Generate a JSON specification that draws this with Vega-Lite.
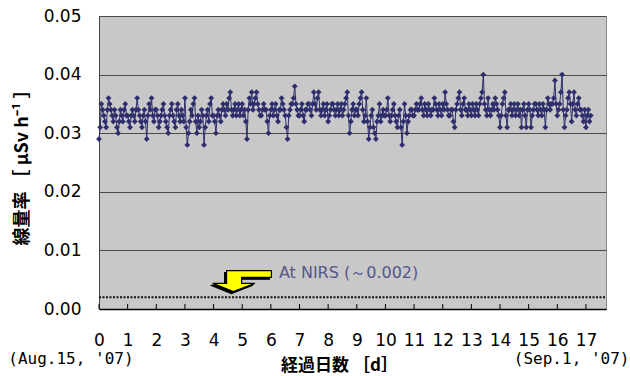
{
  "$schema": "https://vega.github.io/schema/vega-lite/v6.json",
  "autosize": {"type": "none"},
  "width": 507,
  "height": 293,
  "padding": {"left": 99, "top": 16, "right": 24, "bottom": 67},
  "background": "#ffffff",
  "config": {
    "view": {"fill": "#c8c8c8", "stroke": "#8a8a8a", "strokeWidth": 1},
    "axis": {"labelFont": "DejaVu Sans", "labelColor": "#000000", "titleColor": "#000000"}
  },
  "datasets": {
    "dose": [
      {"t":0,"v":0.029},{"t":0.042,"v":0.031},{"t":0.083,"v":0.035},{"t":0.125,"v":0.034},{"t":0.167,"v":0.033},{"t":0.208,"v":0.032},{"t":0.25,"v":0.031},{"t":0.292,"v":0.034},{"t":0.333,"v":0.036},{"t":0.375,"v":0.035},{"t":0.417,"v":0.034},{"t":0.458,"v":0.033},{"t":0.5,"v":0.032},{"t":0.542,"v":0.034},{"t":0.583,"v":0.033},{"t":0.625,"v":0.031},{"t":0.667,"v":0.030},{"t":0.708,"v":0.032},{"t":0.75,"v":0.034},{"t":0.792,"v":0.033},{"t":0.833,"v":0.032},{"t":0.875,"v":0.034},{"t":0.917,"v":0.035},{"t":0.958,"v":0.033},
      {"t":1,"v":0.033},{"t":1.042,"v":0.032},{"t":1.083,"v":0.031},{"t":1.125,"v":0.033},{"t":1.167,"v":0.034},{"t":1.208,"v":0.033},{"t":1.25,"v":0.032},{"t":1.292,"v":0.034},{"t":1.333,"v":0.036},{"t":1.375,"v":0.034},{"t":1.417,"v":0.033},{"t":1.458,"v":0.032},{"t":1.5,"v":0.031},{"t":1.542,"v":0.033},{"t":1.583,"v":0.034},{"t":1.625,"v":0.032},{"t":1.667,"v":0.029},{"t":1.708,"v":0.033},{"t":1.75,"v":0.035},{"t":1.792,"v":0.034},{"t":1.833,"v":0.036},{"t":1.875,"v":0.033},{"t":1.917,"v":0.032},{"t":1.958,"v":0.034},
      {"t":2,"v":0.034},{"t":2.042,"v":0.033},{"t":2.083,"v":0.031},{"t":2.125,"v":0.032},{"t":2.167,"v":0.033},{"t":2.208,"v":0.034},{"t":2.25,"v":0.035},{"t":2.292,"v":0.033},{"t":2.333,"v":0.032},{"t":2.375,"v":0.031},{"t":2.417,"v":0.030},{"t":2.458,"v":0.033},{"t":2.5,"v":0.034},{"t":2.542,"v":0.035},{"t":2.583,"v":0.033},{"t":2.625,"v":0.032},{"t":2.667,"v":0.031},{"t":2.708,"v":0.034},{"t":2.75,"v":0.035},{"t":2.792,"v":0.033},{"t":2.833,"v":0.032},{"t":2.875,"v":0.034},{"t":2.917,"v":0.033},{"t":2.958,"v":0.032},
      {"t":3,"v":0.036},{"t":3.042,"v":0.031},{"t":3.083,"v":0.028},{"t":3.125,"v":0.030},{"t":3.167,"v":0.032},{"t":3.208,"v":0.034},{"t":3.25,"v":0.033},{"t":3.292,"v":0.035},{"t":3.333,"v":0.036},{"t":3.375,"v":0.032},{"t":3.417,"v":0.030},{"t":3.458,"v":0.033},{"t":3.5,"v":0.031},{"t":3.542,"v":0.032},{"t":3.583,"v":0.034},{"t":3.625,"v":0.033},{"t":3.667,"v":0.028},{"t":3.708,"v":0.031},{"t":3.75,"v":0.033},{"t":3.792,"v":0.034},{"t":3.833,"v":0.032},{"t":3.875,"v":0.035},{"t":3.917,"v":0.036},{"t":3.958,"v":0.033},
      {"t":4,"v":0.033},{"t":4.042,"v":0.032},{"t":4.083,"v":0.030},{"t":4.125,"v":0.033},{"t":4.167,"v":0.034},{"t":4.208,"v":0.033},{"t":4.25,"v":0.032},{"t":4.292,"v":0.034},{"t":4.333,"v":0.035},{"t":4.375,"v":0.034},{"t":4.417,"v":0.033},{"t":4.458,"v":0.035},{"t":4.5,"v":0.034},{"t":4.542,"v":0.036},{"t":4.583,"v":0.037},{"t":4.625,"v":0.034},{"t":4.667,"v":0.033},{"t":4.708,"v":0.034},{"t":4.75,"v":0.035},{"t":4.792,"v":0.033},{"t":4.833,"v":0.034},{"t":4.875,"v":0.035},{"t":4.917,"v":0.033},{"t":4.958,"v":0.034},
      {"t":5,"v":0.035},{"t":5.042,"v":0.033},{"t":5.083,"v":0.034},{"t":5.125,"v":0.032},{"t":5.167,"v":0.029},{"t":5.208,"v":0.034},{"t":5.25,"v":0.036},{"t":5.292,"v":0.035},{"t":5.333,"v":0.037},{"t":5.375,"v":0.034},{"t":5.417,"v":0.035},{"t":5.458,"v":0.036},{"t":5.5,"v":0.037},{"t":5.542,"v":0.035},{"t":5.583,"v":0.034},{"t":5.625,"v":0.033},{"t":5.667,"v":0.033},{"t":5.708,"v":0.034},{"t":5.75,"v":0.035},{"t":5.792,"v":0.034},{"t":5.833,"v":0.034},{"t":5.875,"v":0.032},{"t":5.917,"v":0.030},{"t":5.958,"v":0.033},
      {"t":6,"v":0.034},{"t":6.042,"v":0.035},{"t":6.083,"v":0.033},{"t":6.125,"v":0.034},{"t":6.167,"v":0.035},{"t":6.208,"v":0.033},{"t":6.25,"v":0.032},{"t":6.292,"v":0.034},{"t":6.333,"v":0.034},{"t":6.375,"v":0.036},{"t":6.417,"v":0.035},{"t":6.458,"v":0.034},{"t":6.5,"v":0.033},{"t":6.542,"v":0.031},{"t":6.583,"v":0.029},{"t":6.625,"v":0.033},{"t":6.667,"v":0.034},{"t":6.708,"v":0.035},{"t":6.75,"v":0.035},{"t":6.792,"v":0.036},{"t":6.833,"v":0.038},{"t":6.875,"v":0.035},{"t":6.917,"v":0.034},{"t":6.958,"v":0.033},
      {"t":7,"v":0.033},{"t":7.042,"v":0.034},{"t":7.083,"v":0.035},{"t":7.125,"v":0.033},{"t":7.167,"v":0.032},{"t":7.208,"v":0.034},{"t":7.25,"v":0.034},{"t":7.292,"v":0.035},{"t":7.333,"v":0.035},{"t":7.375,"v":0.034},{"t":7.417,"v":0.033},{"t":7.458,"v":0.035},{"t":7.5,"v":0.037},{"t":7.542,"v":0.035},{"t":7.583,"v":0.034},{"t":7.625,"v":0.036},{"t":7.667,"v":0.037},{"t":7.708,"v":0.034},{"t":7.75,"v":0.033},{"t":7.792,"v":0.034},{"t":7.833,"v":0.035},{"t":7.875,"v":0.033},{"t":7.917,"v":0.034},{"t":7.958,"v":0.035},
      {"t":8,"v":0.032},{"t":8.042,"v":0.033},{"t":8.083,"v":0.034},{"t":8.125,"v":0.035},{"t":8.167,"v":0.035},{"t":8.208,"v":0.034},{"t":8.25,"v":0.033},{"t":8.292,"v":0.034},{"t":8.333,"v":0.035},{"t":8.375,"v":0.033},{"t":8.417,"v":0.034},{"t":8.458,"v":0.035},{"t":8.5,"v":0.033},{"t":8.542,"v":0.034},{"t":8.583,"v":0.035},{"t":8.625,"v":0.036},{"t":8.667,"v":0.037},{"t":8.708,"v":0.033},{"t":8.75,"v":0.030},{"t":8.792,"v":0.032},{"t":8.833,"v":0.034},{"t":8.875,"v":0.035},{"t":8.917,"v":0.033},{"t":8.958,"v":0.034},
      {"t":9,"v":0.034},{"t":9.042,"v":0.033},{"t":9.083,"v":0.035},{"t":9.125,"v":0.036},{"t":9.167,"v":0.037},{"t":9.208,"v":0.034},{"t":9.25,"v":0.032},{"t":9.292,"v":0.033},{"t":9.333,"v":0.036},{"t":9.375,"v":0.032},{"t":9.417,"v":0.029},{"t":9.458,"v":0.031},{"t":9.5,"v":0.033},{"t":9.542,"v":0.034},{"t":9.583,"v":0.031},{"t":9.625,"v":0.030},{"t":9.667,"v":0.029},{"t":9.708,"v":0.032},{"t":9.75,"v":0.033},{"t":9.792,"v":0.035},{"t":9.833,"v":0.032},{"t":9.875,"v":0.033},{"t":9.917,"v":0.034},{"t":9.958,"v":0.033},
      {"t":10,"v":0.033},{"t":10.042,"v":0.034},{"t":10.083,"v":0.036},{"t":10.125,"v":0.033},{"t":10.167,"v":0.032},{"t":10.208,"v":0.033},{"t":10.25,"v":0.034},{"t":10.292,"v":0.035},{"t":10.333,"v":0.033},{"t":10.375,"v":0.032},{"t":10.417,"v":0.031},{"t":10.458,"v":0.033},{"t":10.5,"v":0.034},{"t":10.542,"v":0.031},{"t":10.583,"v":0.028},{"t":10.625,"v":0.032},{"t":10.667,"v":0.035},{"t":10.708,"v":0.033},{"t":10.75,"v":0.030},{"t":10.792,"v":0.032},{"t":10.833,"v":0.033},{"t":10.875,"v":0.034},{"t":10.917,"v":0.034},{"t":10.958,"v":0.033},
      {"t":11,"v":0.033},{"t":11.042,"v":0.034},{"t":11.083,"v":0.035},{"t":11.125,"v":0.034},{"t":11.167,"v":0.034},{"t":11.208,"v":0.035},{"t":11.25,"v":0.036},{"t":11.292,"v":0.034},{"t":11.333,"v":0.033},{"t":11.375,"v":0.035},{"t":11.417,"v":0.034},{"t":11.458,"v":0.033},{"t":11.5,"v":0.035},{"t":11.542,"v":0.034},{"t":11.583,"v":0.033},{"t":11.625,"v":0.034},{"t":11.667,"v":0.034},{"t":11.708,"v":0.036},{"t":11.75,"v":0.035},{"t":11.792,"v":0.034},{"t":11.833,"v":0.033},{"t":11.875,"v":0.035},{"t":11.917,"v":0.034},{"t":11.958,"v":0.033},
      {"t":12,"v":0.035},{"t":12.042,"v":0.034},{"t":12.083,"v":0.037},{"t":12.125,"v":0.035},{"t":12.167,"v":0.034},{"t":12.208,"v":0.033},{"t":12.25,"v":0.033},{"t":12.292,"v":0.034},{"t":12.333,"v":0.034},{"t":12.375,"v":0.032},{"t":12.417,"v":0.031},{"t":12.458,"v":0.034},{"t":12.5,"v":0.035},{"t":12.542,"v":0.036},{"t":12.583,"v":0.037},{"t":12.625,"v":0.034},{"t":12.667,"v":0.033},{"t":12.708,"v":0.035},{"t":12.75,"v":0.036},{"t":12.792,"v":0.034},{"t":12.833,"v":0.034},{"t":12.875,"v":0.033},{"t":12.917,"v":0.035},{"t":12.958,"v":0.034},
      {"t":13,"v":0.033},{"t":13.042,"v":0.035},{"t":13.083,"v":0.034},{"t":13.125,"v":0.033},{"t":13.167,"v":0.035},{"t":13.208,"v":0.034},{"t":13.25,"v":0.033},{"t":13.292,"v":0.035},{"t":13.333,"v":0.036},{"t":13.375,"v":0.037},{"t":13.417,"v":0.040},{"t":13.458,"v":0.035},{"t":13.5,"v":0.034},{"t":13.542,"v":0.033},{"t":13.583,"v":0.036},{"t":13.625,"v":0.034},{"t":13.667,"v":0.033},{"t":13.708,"v":0.034},{"t":13.75,"v":0.035},{"t":13.792,"v":0.034},{"t":13.833,"v":0.036},{"t":13.875,"v":0.035},{"t":13.917,"v":0.034},{"t":13.958,"v":0.033},
      {"t":14,"v":0.031},{"t":14.042,"v":0.033},{"t":14.083,"v":0.035},{"t":14.125,"v":0.036},{"t":14.167,"v":0.037},{"t":14.208,"v":0.033},{"t":14.25,"v":0.031},{"t":14.292,"v":0.034},{"t":14.333,"v":0.034},{"t":14.375,"v":0.035},{"t":14.417,"v":0.033},{"t":14.458,"v":0.034},{"t":14.5,"v":0.035},{"t":14.542,"v":0.033},{"t":14.583,"v":0.034},{"t":14.625,"v":0.035},{"t":14.667,"v":0.033},{"t":14.708,"v":0.034},{"t":14.75,"v":0.031},{"t":14.792,"v":0.034},{"t":14.833,"v":0.035},{"t":14.875,"v":0.033},{"t":14.917,"v":0.031},{"t":14.958,"v":0.034},
      {"t":15,"v":0.035},{"t":15.042,"v":0.034},{"t":15.083,"v":0.031},{"t":15.125,"v":0.033},{"t":15.167,"v":0.034},{"t":15.208,"v":0.035},{"t":15.25,"v":0.035},{"t":15.292,"v":0.034},{"t":15.333,"v":0.033},{"t":15.375,"v":0.035},{"t":15.417,"v":0.034},{"t":15.458,"v":0.033},{"t":15.5,"v":0.035},{"t":15.542,"v":0.034},{"t":15.583,"v":0.031},{"t":15.625,"v":0.034},{"t":15.667,"v":0.036},{"t":15.708,"v":0.035},{"t":15.75,"v":0.034},{"t":15.792,"v":0.035},{"t":15.833,"v":0.035},{"t":15.875,"v":0.036},{"t":15.917,"v":0.039},{"t":15.958,"v":0.035},
      {"t":16,"v":0.033},{"t":16.042,"v":0.034},{"t":16.083,"v":0.035},{"t":16.125,"v":0.037},{"t":16.167,"v":0.040},{"t":16.208,"v":0.034},{"t":16.25,"v":0.031},{"t":16.292,"v":0.033},{"t":16.333,"v":0.034},{"t":16.375,"v":0.036},{"t":16.417,"v":0.037},{"t":16.458,"v":0.035},{"t":16.5,"v":0.032},{"t":16.542,"v":0.035},{"t":16.583,"v":0.037},{"t":16.625,"v":0.034},{"t":16.667,"v":0.033},{"t":16.708,"v":0.035},{"t":16.75,"v":0.036},{"t":16.792,"v":0.034},{"t":16.833,"v":0.034},{"t":16.875,"v":0.033},{"t":16.917,"v":0.032},{"t":16.958,"v":0.034},
      {"t":17,"v":0.031},{"t":17.042,"v":0.033},{"t":17.083,"v":0.034},{"t":17.125,"v":0.032},{"t":17.167,"v":0.033}
    ]
  },
  "encoding": {
    "x": {"field": "t", "type": "quantitative",
          "scale": {"domain": [0, 17.7], "nice": false, "zero": false},
          "axis": {"values": [0,1,2,3,4,5,6,7,8,9,10,11,12,13,14,15,16,17],
                   "format": "d", "grid": false, "ticks": false,
                   "labelOverlap": false, "labelFlush": false,
                   "domainColor": "#000000", "domainWidth": 1.5,
                   "labelFontSize": 17, "labelPadding": 23,
                   "title": "経過日数 ［d］", "titleFont": "Noto Sans CJK JP",
                   "titleFontSize": 17, "titleFontWeight": "bold", "titlePadding": 9, "titleX": 240}},
    "y": {"field": "v", "type": "quantitative",
          "scale": {"domain": [0, 0.05], "nice": false},
          "axis": {"values": [0, 0.01, 0.02, 0.03, 0.04, 0.05], "format": ".2f",
                   "grid": true, "gridColor": "#4a4a4a", "gridWidth": 1,
                   "ticks": false, "domainColor": "#444444",
                   "labelFontSize": 17, "labelPadding": 18,
                   "title": "線量率 ［ μSv h⁻¹ ］", "titleFont": "Noto Sans CJK JP",
                   "titleFontSize": 18, "titleFontWeight": "bold", "titlePadding": 12}}
  },
  "layer": [
    {
      "data": {"name": "dose"},
      "mark": {"type": "line", "color": "#2e2e6c", "strokeWidth": 1,
               "point": {"shape": "diamond", "size": 34, "filled": true, "color": "#2e2e6c"}}
    },
    {
      "data": {"values": [{"t":0,"v":0,"v2":0.00085},{"t":1,"v":0,"v2":0.00085},{"t":2,"v":0,"v2":0.00085},{"t":3,"v":0,"v2":0.00085},{"t":4,"v":0,"v2":0.00085},{"t":5,"v":0,"v2":0.00085},{"t":6,"v":0,"v2":0.00085},{"t":7,"v":0,"v2":0.00085},{"t":8,"v":0,"v2":0.00085},{"t":9,"v":0,"v2":0.00085},{"t":10,"v":0,"v2":0.00085},{"t":11,"v":0,"v2":0.00085},{"t":12,"v":0,"v2":0.00085},{"t":13,"v":0,"v2":0.00085},{"t":14,"v":0,"v2":0.00085},{"t":15,"v":0,"v2":0.00085},{"t":16,"v":0,"v2":0.00085},{"t":17,"v":0,"v2":0.00085}]},
      "mark": {"type": "rule", "color": "#000000", "strokeWidth": 1},
      "encoding": {"y2": {"field": "v2"}}
    },
    {
      "data": {"values": [{"t": 0, "t2": 17.7, "v": 0.002}]},
      "mark": {"type": "rule", "color": "#111111", "strokeWidth": 2, "strokeDash": [2, 1.5]},
      "encoding": {"x2": {"field": "t2"}}
    },
    {
      "data": {"values": [{"t": 4.92, "v": 0.00445, "k": "shadow"}, {"t": 4.99, "v": 0.00478, "k": "arrow"}]},
      "mark": {"type": "point", "filled": true, "strokeWidth": 1.2,
               "shape": "M -0.52 -0.35 L 1.0 -0.35 L 1.0 -0.125 L -0.01 -0.125 L -0.01 0.08 L 0.44 0.08 L -0.29 0.36 L -0.99 0.08 L -0.52 0.08 Z",
               "size": 3481},
      "encoding": {
        "fill": {"field": "k", "type": "nominal", "scale": {"domain": ["shadow", "arrow"], "range": ["#000000", "#ffff00"]}, "legend": null},
        "stroke": {"value": "#000000"},
        "opacity": {"value": 1}
      }
    },
    {
      "data": {"values": [{"t": 6.28, "v": 0.0061, "label": "At NIRS (～0.002)"}]},
      "mark": {"type": "text", "align": "left", "baseline": "middle", "font": "DejaVu Sans", "fontSize": 16, "color": "#56568a"},
      "encoding": {"text": {"field": "label"}}
    },
    {
      "data": {"values": [{"t": -0.98, "v": -0.0085, "label": "(Aug.15, '07)"}, {"t": 16.5, "v": -0.0085, "label": "(Sep.1, '07)"}]},
      "mark": {"type": "text", "align": "center", "baseline": "middle", "font": "DejaVu Sans Mono", "fontSize": 16, "color": "#000000"},
      "encoding": {"text": {"field": "label"}}
    }
  ]
}
